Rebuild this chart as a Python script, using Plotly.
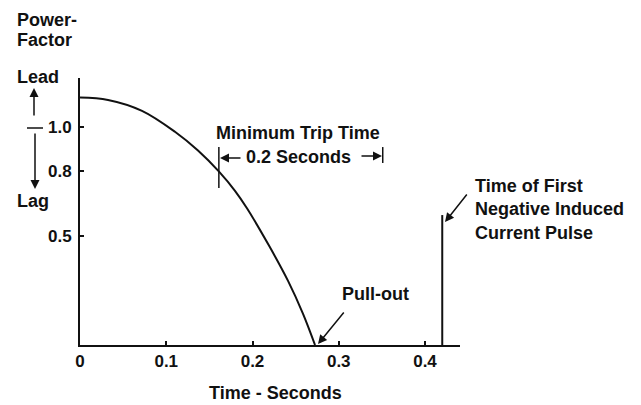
import plotly.graph_objects as go

# ---- data ----
time_s = [0.0, 0.0325, 0.0719, 0.1101, 0.1368, 0.1612, 0.1797, 0.1936, 0.2191, 0.2412, 0.2586, 0.2725]
power_factor_pos = [1.135, 1.124, 1.074, 0.978, 0.892, 0.795, 0.707, 0.627, 0.456, 0.294, 0.143, 0.0]

x_tick_vals = [0, 0.1, 0.2, 0.3, 0.4]
x_tick_text = ["0", "0.1", "0.2", "0.3", "0.4"]
y_tick_vals = [1.0, 0.8, 0.5]
y_tick_text = ["1.0", "0.8", "0.5"]

trip_start = 0.161
trip_end = 0.351
pullout_t = 0.2725
first_pulse_t = 0.42
first_pulse_top = 0.596

# page body has an 8px margin; figure is sized to fill the rest of the window
OFF = 8
W, H = 641 - OFF, 405 - OFF
AX_LEFT, AX_RIGHT, AX_TOP, AX_BOTTOM = 80, 460, 78, 345   # reference pixels
L, R = AX_LEFT - OFF, 641 - AX_RIGHT
T, B = AX_TOP - OFF, 405 - AX_BOTTOM
PW, PH = AX_RIGHT - AX_LEFT, AX_BOTTOM - AX_TOP
X_MAX = PW / 862.5
Y_MAX = PH / 218.0

def PX(px):
    return (px - AX_LEFT) / PW

def PY(py):
    return (AX_BOTTOM - py) / PH

FONT = "Liberation Sans, Arial, sans-serif"
BLACK = "#111111"

fig = go.Figure()
fig.add_trace(go.Scatter(
    x=time_s, y=power_factor_pos, mode="lines",
    line=dict(color=BLACK, width=2, shape="spline", smoothing=1.0),
    hoverinfo="skip", showlegend=False, cliponaxis=False,
))

shapes = [
    # first negative induced current pulse
    dict(type="line", xref="x", yref="y", x0=first_pulse_t, x1=first_pulse_t,
         y0=0, y1=first_pulse_top, line=dict(color=BLACK, width=2)),
    # minimum trip time bars
    dict(type="line", xref="x", yref="y", x0=trip_start, x1=trip_start,
         y0=0.720, y1=0.908, line=dict(color=BLACK, width=1.5)),
    dict(type="line", xref="x", yref="y", x0=trip_end, x1=trip_end,
         y0=0.835, y1=0.908, line=dict(color=BLACK, width=1.5)),
    # lead/lag separator
    dict(type="line", xref="paper", yref="paper", x0=PX(27), x1=PX(43),
         y0=PY(128), y1=PY(128), line=dict(color=BLACK, width=1.5)),
]

def arrow(hx, hy, tx, ty, w=1.5):
    return dict(x=PX(hx), y=PY(hy), xref="paper", yref="paper", text="",
                showarrow=True, ax=tx - hx, ay=ty - hy, arrowhead=2,
                arrowsize=1.2, arrowwidth=w, arrowcolor=BLACK)

def label(text, px, py, xanchor="center", size=18, align="center"):
    return dict(x=PX(px), y=PY(py), xref="paper", yref="paper", text=text,
                showarrow=False, xanchor=xanchor, yanchor="middle", align=align,
                font=dict(family=FONT, size=size, color=BLACK, weight="bold"))

annotations = [
    label("Power-", 15, 20, xanchor="left"),
    label("Factor", 15, 40, xanchor="left"),
    label("Lead", 15, 77, xanchor="left"),
    label("Lag", 15, 201, xanchor="left"),
    arrow(34, 88, 34, 117),
    arrow(35, 189, 35, 132),
    label("Minimum Trip Time", 298, 133),
    label("0.2 Seconds", 298, 157),
    arrow(220, 158, 242, 158),
    arrow(382, 156, 360, 156),
    label("Pull-out", 375, 294),
    arrow(318, 344, 345, 311),
    label("Time of First<br>Negative Induced<br>Current Pulse", 473, 209,
          xanchor="left", align="left"),
    arrow(445, 222, 468, 193),
    label("Time - Seconds", 275, 393),
]

fig.update_layout(
    width=W, height=H,
    margin=dict(l=L, r=R, t=T, b=B, pad=0),
    paper_bgcolor="white", plot_bgcolor="white",
    shapes=shapes, annotations=annotations,
    xaxis=dict(range=[0, X_MAX], showgrid=False, zeroline=False,
               showline=True, linecolor=BLACK, linewidth=2,
               tickvals=x_tick_vals, ticktext=x_tick_text,
               ticks="inside", ticklen=4, tickwidth=1.5, tickcolor=BLACK,
               tickfont=dict(family=FONT, size=17, color=BLACK, weight="bold")),
    yaxis=dict(range=[0, Y_MAX], showgrid=False, zeroline=False,
               showline=True, linecolor=BLACK, linewidth=2,
               tickvals=y_tick_vals, ticktext=y_tick_text,
               ticks="inside", ticklen=4, tickwidth=1.5, tickcolor=BLACK,
               ticklabelstandoff=3,
               tickfont=dict(family=FONT, size=17, color=BLACK, weight="bold")),
)

fig.write_html("out.html")
